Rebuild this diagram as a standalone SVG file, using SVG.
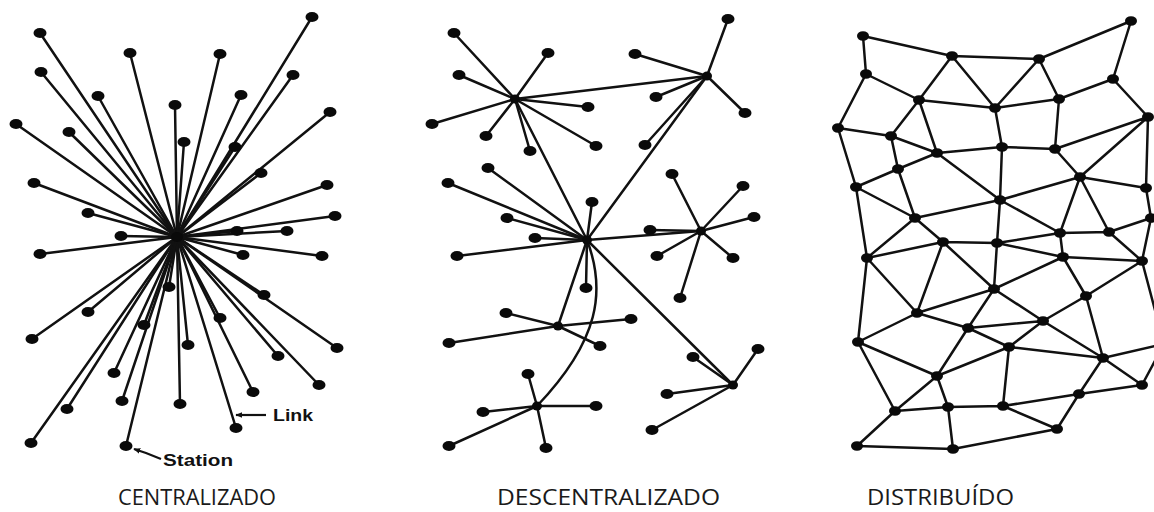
<svg xmlns="http://www.w3.org/2000/svg" xmlns:xlink="http://www.w3.org/1999/xlink" width="1154" height="512" viewBox="0 0 1154 512">
<style>
.e{stroke:#111;stroke-width:2.5;fill:none;stroke-linecap:round}
.n{fill:#0a0a0a}
.lab{font-family:"Open Sans","Noto Sans",sans-serif;font-size:21px;fill:#1a1a1a}
.ann{font-family:"Liberation Sans",Arial,sans-serif;font-size:16px;font-weight:bold;fill:#111}
</style>
<defs>
<ellipse id="d" rx="6.5" ry="5"/>
<ellipse id="s" rx="6" ry="4.8"/>
<ellipse id="h" rx="5" ry="4.5"/>
<marker id="ar" viewBox="0 0 10 10" refX="9" refY="5" markerWidth="7" markerHeight="7" orient="auto-start-reverse" markerUnits="userSpaceOnUse"><path d="M0 1L10 5L0 9Z" fill="#111"/></marker>
</defs>
<rect width="1154" height="512" fill="#fff"/>
<g id="connectors">
<g id="c-links">
<line class="e" x1="177" y1="237" x2="312" y2="17"/>
<line class="e" x1="177" y1="237" x2="40" y2="33"/>
<line class="e" x1="177" y1="237" x2="130" y2="53"/>
<line class="e" x1="177" y1="237" x2="220" y2="54"/>
<line class="e" x1="177" y1="237" x2="293" y2="75"/>
<line class="e" x1="177" y1="237" x2="41" y2="72"/>
<line class="e" x1="177" y1="237" x2="98" y2="96"/>
<line class="e" x1="177" y1="237" x2="241" y2="95"/>
<line class="e" x1="177" y1="237" x2="175" y2="105"/>
<line class="e" x1="177" y1="237" x2="330" y2="112"/>
<line class="e" x1="177" y1="237" x2="16" y2="124"/>
<line class="e" x1="177" y1="237" x2="69" y2="132"/>
<line class="e" x1="177" y1="237" x2="184" y2="142"/>
<line class="e" x1="177" y1="237" x2="235" y2="147"/>
<line class="e" x1="177" y1="237" x2="261" y2="173"/>
<line class="e" x1="177" y1="237" x2="34" y2="183"/>
<line class="e" x1="177" y1="237" x2="327" y2="185"/>
<line class="e" x1="177" y1="237" x2="88" y2="213"/>
<line class="e" x1="177" y1="237" x2="335" y2="216"/>
<line class="e" x1="177" y1="237" x2="237" y2="231"/>
<line class="e" x1="177" y1="237" x2="287" y2="231"/>
<line class="e" x1="177" y1="237" x2="121" y2="236"/>
<line class="e" x1="177" y1="237" x2="40" y2="254"/>
<line class="e" x1="177" y1="237" x2="243" y2="255"/>
<line class="e" x1="177" y1="237" x2="322" y2="256"/>
<line class="e" x1="177" y1="237" x2="169" y2="287"/>
<line class="e" x1="177" y1="237" x2="264" y2="295"/>
<line class="e" x1="177" y1="237" x2="88" y2="312"/>
<line class="e" x1="177" y1="237" x2="144" y2="325"/>
<line class="e" x1="177" y1="237" x2="220" y2="318"/>
<line class="e" x1="177" y1="237" x2="32" y2="339"/>
<line class="e" x1="177" y1="237" x2="188" y2="345"/>
<line class="e" x1="177" y1="237" x2="278" y2="356"/>
<line class="e" x1="177" y1="237" x2="337" y2="348"/>
<line class="e" x1="177" y1="237" x2="114" y2="373"/>
<line class="e" x1="177" y1="237" x2="253" y2="392"/>
<line class="e" x1="177" y1="237" x2="319" y2="385"/>
<line class="e" x1="177" y1="237" x2="122" y2="401"/>
<line class="e" x1="177" y1="237" x2="180" y2="404"/>
<line class="e" x1="177" y1="237" x2="67" y2="409"/>
<line class="e" x1="177" y1="237" x2="236" y2="428"/>
<line class="e" x1="177" y1="237" x2="31" y2="443"/>
<line class="e" x1="177" y1="237" x2="126" y2="446"/>
</g>
<g id="annot-arrows">
<line x1="266" y1="415" x2="236" y2="415" stroke="#111" stroke-width="2.2" marker-end="url(#ar)"/>
<polyline points="161,459 146,453 134,449" fill="none" stroke="#111" stroke-width="2.2" marker-end="url(#ar)"/>
</g>
<g id="d-links">
<line class="e" x1="515" y1="99" x2="454" y2="33"/>
<line class="e" x1="515" y1="99" x2="548" y2="53"/>
<line class="e" x1="515" y1="99" x2="459" y2="75"/>
<line class="e" x1="515" y1="99" x2="588" y2="107"/>
<line class="e" x1="515" y1="99" x2="432" y2="124"/>
<line class="e" x1="515" y1="99" x2="486" y2="136"/>
<line class="e" x1="515" y1="99" x2="530" y2="151"/>
<line class="e" x1="515" y1="99" x2="596" y2="146"/>
<line class="e" x1="515" y1="99" x2="707" y2="76"/>
<line class="e" x1="515" y1="99" x2="587" y2="240"/>
<line class="e" x1="707" y1="76" x2="728" y2="19"/>
<line class="e" x1="707" y1="76" x2="635" y2="54"/>
<line class="e" x1="707" y1="76" x2="656" y2="97"/>
<line class="e" x1="707" y1="76" x2="745" y2="113"/>
<line class="e" x1="707" y1="76" x2="645" y2="145"/>
<line class="e" x1="707" y1="76" x2="587" y2="240"/>
<line class="e" x1="587" y1="240" x2="488" y2="168"/>
<line class="e" x1="587" y1="240" x2="448" y2="183"/>
<line class="e" x1="587" y1="240" x2="592" y2="202"/>
<line class="e" x1="587" y1="240" x2="507" y2="218"/>
<line class="e" x1="587" y1="240" x2="535" y2="238"/>
<line class="e" x1="587" y1="240" x2="457" y2="256"/>
<line class="e" x1="587" y1="240" x2="586" y2="288"/>
<line class="e" x1="587" y1="240" x2="701" y2="231"/>
<line class="e" x1="587" y1="240" x2="558" y2="326"/>
<line class="e" x1="587" y1="240" x2="733" y2="385"/>
<path class="e" d="M587 240C606 290 600 340 537 406"/>
<line class="e" x1="701" y1="231" x2="672" y2="174"/>
<line class="e" x1="701" y1="231" x2="743" y2="186"/>
<line class="e" x1="701" y1="231" x2="754" y2="217"/>
<line class="e" x1="701" y1="231" x2="650" y2="230"/>
<line class="e" x1="701" y1="231" x2="657" y2="256"/>
<line class="e" x1="701" y1="231" x2="733" y2="258"/>
<line class="e" x1="701" y1="231" x2="680" y2="298"/>
<line class="e" x1="558" y1="326" x2="506" y2="313"/>
<line class="e" x1="558" y1="326" x2="631" y2="319"/>
<line class="e" x1="558" y1="326" x2="449" y2="343"/>
<line class="e" x1="558" y1="326" x2="600" y2="346"/>
<line class="e" x1="537" y1="406" x2="528" y2="374"/>
<line class="e" x1="537" y1="406" x2="483" y2="412"/>
<line class="e" x1="537" y1="406" x2="596" y2="406"/>
<line class="e" x1="537" y1="406" x2="449" y2="446"/>
<line class="e" x1="537" y1="406" x2="546" y2="448"/>
<line class="e" x1="733" y1="385" x2="758" y2="349"/>
<line class="e" x1="733" y1="385" x2="693" y2="357"/>
<line class="e" x1="733" y1="385" x2="667" y2="394"/>
<line class="e" x1="733" y1="385" x2="652" y2="430"/>
</g>
<g id="r-links">
<path class="e" d="M863 36L952 56M863 36L866 74M952 56L1039 59M1039 59L1131 21M1131 21L1113 79M866 74L919 100M866 74L838 128M952 56L919 100M952 56L995 108M1039 59L995 108M1039 59L1059 99M1113 79L1059 99M1113 79L1148 117M919 100L995 108M995 108L1059 99M919 100L891 136M919 100L937 153M995 108L1002 147M1059 99L1055 149M838 128L891 136M838 128L856 187M891 136L937 153M891 136L898 169M937 153L1002 147M1002 147L1055 149M1055 149L1148 117M1148 117L1080 177M1055 149L1080 177M1148 117L1146 188M937 153L1000 200M1002 147L1000 200M898 169L856 187M898 169L937 153M898 169L915 218M856 187L915 218M1080 177L1000 200M1080 177L1146 188M1080 177L1060 233M1080 177L1109 232M1000 200L915 218M1000 200L1060 233M1000 200L997 243M915 218L943 242M915 218L867 258M856 187L867 258M1060 233L1109 232M1109 232L1151 218M1146 188L1151 218M1060 233L1063 257M1109 232L1142 261M997 243L1060 233M943 242L997 243M943 242L867 258M997 243L1063 257M1063 257L1142 261M1142 261L1151 218M867 258L917 313M943 242L917 313M943 242L994 289M997 243L994 289M1063 257L994 289M1063 257L1086 296M1142 261L1086 296M994 289L917 313M994 289L968 328M994 289L1043 321M1086 296L1043 321M1086 296L1103 358M917 313L968 328M917 313L858 342M867 258L858 342M968 328L1043 321M968 328L1009 347M968 328L937 376M1043 321L1009 347M1043 321L1103 358M1009 347L1103 358M1009 347L937 376M1009 347L1003 406M858 342L937 376M858 342L895 411M937 376L895 411M937 376L948 407M1103 358L1142 385M1103 358L1079 394M1103 358L1164 344M1142 261L1164 344M1142 385L1164 344M1079 394L1142 385M1079 394L1003 406M1079 394L1057 429M1003 406L1057 429M895 411L948 407M948 407L1003 406M895 411L857 446M948 407L953 449M857 446L953 449M953 449L1057 429"/>
</g>
</g>
<g id="nodes" class="n">
<g id="c-hub"><ellipse cx="177" cy="237" rx="6" ry="5"/></g>
<g id="c1"><use href="#d" x="312" y="17"/></g>
<g id="c2"><use href="#d" x="40" y="33"/></g>
<g id="c3"><use href="#d" x="130" y="53"/></g>
<g id="c4"><use href="#d" x="220" y="54"/></g>
<g id="c5"><use href="#d" x="293" y="75"/></g>
<g id="c6"><use href="#d" x="41" y="72"/></g>
<g id="c7"><use href="#d" x="98" y="96"/></g>
<g id="c8"><use href="#d" x="241" y="95"/></g>
<g id="c9"><use href="#d" x="175" y="105"/></g>
<g id="c10"><use href="#d" x="330" y="112"/></g>
<g id="c11"><use href="#d" x="16" y="124"/></g>
<g id="c12"><use href="#d" x="69" y="132"/></g>
<g id="c13"><use href="#d" x="184" y="142"/></g>
<g id="c14"><use href="#d" x="235" y="147"/></g>
<g id="c15"><use href="#d" x="261" y="173"/></g>
<g id="c16"><use href="#d" x="34" y="183"/></g>
<g id="c17"><use href="#d" x="327" y="185"/></g>
<g id="c18"><use href="#d" x="88" y="213"/></g>
<g id="c19"><use href="#d" x="335" y="216"/></g>
<g id="c20"><use href="#d" x="237" y="231"/></g>
<g id="c21"><use href="#d" x="287" y="231"/></g>
<g id="c22"><use href="#d" x="121" y="236"/></g>
<g id="c23"><use href="#d" x="40" y="254"/></g>
<g id="c24"><use href="#d" x="243" y="255"/></g>
<g id="c25"><use href="#d" x="322" y="256"/></g>
<g id="c26"><use href="#d" x="169" y="287"/></g>
<g id="c27"><use href="#d" x="264" y="295"/></g>
<g id="c28"><use href="#d" x="88" y="312"/></g>
<g id="c29"><use href="#d" x="144" y="325"/></g>
<g id="c30"><use href="#d" x="220" y="318"/></g>
<g id="c31"><use href="#d" x="32" y="339"/></g>
<g id="c32"><use href="#d" x="188" y="345"/></g>
<g id="c33"><use href="#d" x="278" y="356"/></g>
<g id="c34"><use href="#d" x="337" y="348"/></g>
<g id="c35"><use href="#d" x="114" y="373"/></g>
<g id="c36"><use href="#d" x="253" y="392"/></g>
<g id="c37"><use href="#d" x="319" y="385"/></g>
<g id="c38"><use href="#d" x="122" y="401"/></g>
<g id="c39"><use href="#d" x="180" y="404"/></g>
<g id="c40"><use href="#d" x="67" y="409"/></g>
<g id="c41"><use href="#d" x="236" y="428"/></g>
<g id="c42"><use href="#d" x="31" y="443"/></g>
<g id="c43"><use href="#d" x="126" y="446"/></g>

<g id="dA"><use href="#h" x="515" y="99"/></g>
<g id="dB"><use href="#h" x="707" y="76"/></g>
<g id="dC"><use href="#h" x="587" y="240"/></g>
<g id="dD"><use href="#h" x="701" y="231"/></g>
<g id="dE"><use href="#h" x="558" y="326"/></g>
<g id="dF"><use href="#h" x="537" y="406"/></g>
<g id="dG"><use href="#h" x="733" y="385"/></g>
<g id="d1"><use href="#d" x="454" y="33"/></g>
<g id="d2"><use href="#d" x="548" y="53"/></g>
<g id="d3"><use href="#d" x="459" y="75"/></g>
<g id="d4"><use href="#d" x="588" y="107"/></g>
<g id="d5"><use href="#d" x="432" y="124"/></g>
<g id="d6"><use href="#d" x="486" y="136"/></g>
<g id="d7"><use href="#d" x="530" y="151"/></g>
<g id="d8"><use href="#d" x="596" y="146"/></g>
<g id="d9"><use href="#d" x="728" y="19"/></g>
<g id="d10"><use href="#d" x="635" y="54"/></g>
<g id="d11"><use href="#d" x="656" y="97"/></g>
<g id="d12"><use href="#d" x="745" y="113"/></g>
<g id="d13"><use href="#d" x="645" y="145"/></g>
<g id="d14"><use href="#d" x="488" y="168"/></g>
<g id="d15"><use href="#d" x="448" y="183"/></g>
<g id="d16"><use href="#d" x="592" y="202"/></g>
<g id="d17"><use href="#d" x="507" y="218"/></g>
<g id="d18"><use href="#d" x="535" y="238"/></g>
<g id="d19"><use href="#d" x="457" y="256"/></g>
<g id="d20"><use href="#d" x="586" y="288"/></g>
<g id="d21"><use href="#d" x="672" y="174"/></g>
<g id="d22"><use href="#d" x="743" y="186"/></g>
<g id="d23"><use href="#d" x="754" y="217"/></g>
<g id="d24"><use href="#d" x="650" y="230"/></g>
<g id="d25"><use href="#d" x="657" y="256"/></g>
<g id="d26"><use href="#d" x="733" y="258"/></g>
<g id="d27"><use href="#d" x="680" y="298"/></g>
<g id="d28"><use href="#d" x="506" y="313"/></g>
<g id="d29"><use href="#d" x="631" y="319"/></g>
<g id="d30"><use href="#d" x="449" y="343"/></g>
<g id="d31"><use href="#d" x="600" y="346"/></g>
<g id="d32"><use href="#d" x="528" y="374"/></g>
<g id="d33"><use href="#d" x="483" y="412"/></g>
<g id="d34"><use href="#d" x="596" y="406"/></g>
<g id="d35"><use href="#d" x="449" y="446"/></g>
<g id="d36"><use href="#d" x="546" y="448"/></g>
<g id="d37"><use href="#d" x="758" y="349"/></g>
<g id="d38"><use href="#d" x="693" y="357"/></g>
<g id="d39"><use href="#d" x="667" y="394"/></g>
<g id="d40"><use href="#d" x="652" y="430"/></g>

<g id="r1"><use href="#s" x="863" y="36"/></g>
<g id="r2"><use href="#s" x="952" y="56"/></g>
<g id="r3"><use href="#s" x="1039" y="59"/></g>
<g id="r4"><use href="#s" x="1131" y="21"/></g>
<g id="r5"><use href="#s" x="866" y="74"/></g>
<g id="r6"><use href="#s" x="1113" y="79"/></g>
<g id="r7"><use href="#s" x="919" y="100"/></g>
<g id="r8"><use href="#s" x="995" y="108"/></g>
<g id="r9"><use href="#s" x="1059" y="99"/></g>
<g id="r10"><use href="#s" x="1148" y="117"/></g>
<g id="r11"><use href="#s" x="838" y="128"/></g>
<g id="r12"><use href="#s" x="891" y="136"/></g>
<g id="r13"><use href="#s" x="937" y="153"/></g>
<g id="r14"><use href="#s" x="1002" y="147"/></g>
<g id="r15"><use href="#s" x="1055" y="149"/></g>
<g id="r16"><use href="#s" x="1080" y="177"/></g>
<g id="r17"><use href="#s" x="898" y="169"/></g>
<g id="r18"><use href="#s" x="856" y="187"/></g>
<g id="r19"><use href="#s" x="1146" y="188"/></g>
<g id="r20"><use href="#s" x="1000" y="200"/></g>
<g id="r21"><use href="#s" x="915" y="218"/></g>
<g id="r22"><use href="#s" x="1151" y="218"/></g>
<g id="r23"><use href="#s" x="1060" y="233"/></g>
<g id="r24"><use href="#s" x="1109" y="232"/></g>
<g id="r25"><use href="#s" x="943" y="242"/></g>
<g id="r26"><use href="#s" x="997" y="243"/></g>
<g id="r27"><use href="#s" x="867" y="258"/></g>
<g id="r28"><use href="#s" x="1063" y="257"/></g>
<g id="r29"><use href="#s" x="1142" y="261"/></g>
<g id="r30"><use href="#s" x="994" y="289"/></g>
<g id="r31"><use href="#s" x="1086" y="296"/></g>
<g id="r32"><use href="#s" x="917" y="313"/></g>
<g id="r33"><use href="#s" x="1043" y="321"/></g>
<g id="r34"><use href="#s" x="968" y="328"/></g>
<g id="r35"><use href="#s" x="858" y="342"/></g>
<g id="r36"><use href="#s" x="1009" y="347"/></g>
<g id="r37"><use href="#s" x="1103" y="358"/></g>
<g id="r38"><use href="#s" x="937" y="376"/></g>
<g id="r39"><use href="#s" x="1142" y="385"/></g>
<g id="r40"><use href="#s" x="1079" y="394"/></g>
<g id="r41"><use href="#s" x="895" y="411"/></g>
<g id="r42"><use href="#s" x="948" y="407"/></g>
<g id="r43"><use href="#s" x="1003" y="406"/></g>
<g id="r44"><use href="#s" x="1057" y="429"/></g>
<g id="r45"><use href="#s" x="857" y="446"/></g>
<g id="r46"><use href="#s" x="953" y="449"/></g>
</g>
<g id="labels">
<text class="ann" x="273" y="421" textLength="40" lengthAdjust="spacingAndGlyphs">Link</text>
<text class="ann" x="163" y="466" textLength="70" lengthAdjust="spacingAndGlyphs">Station</text>
<text class="lab" x="118" y="505" textLength="158" lengthAdjust="spacingAndGlyphs">CENTRALIZADO</text>
<text class="lab" x="497" y="505" textLength="223" lengthAdjust="spacingAndGlyphs">DESCENTRALIZADO</text>
<text class="lab" x="867" y="505" textLength="147" lengthAdjust="spacingAndGlyphs">DISTRIBUÍDO</text>
</g>
</svg>
